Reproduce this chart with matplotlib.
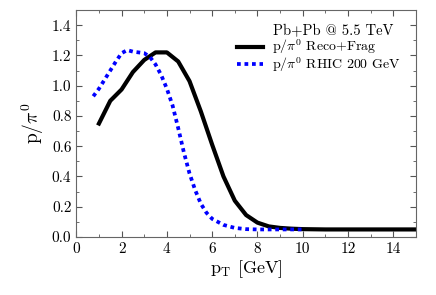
import matplotlib
matplotlib.use("Agg")
import matplotlib.pyplot as plt
from matplotlib.ticker import MultipleLocator

plt.rcParams['font.family'] = 'serif'
plt.rcParams['font.serif'] = ['cmr10']
plt.rcParams['mathtext.fontset'] = 'cm'
plt.rcParams['axes.formatter.use_mathtext'] = True

# Reco+Frag (LHC) p/pi0
pt_lhc = [1.0, 1.5, 2.0, 2.5, 3.0, 3.5, 4.0, 4.5, 5.0, 5.5, 6.0, 6.5, 7.0, 7.5,
          8.0, 8.5, 9.0, 9.5, 10.0, 11.0, 12.0, 13.0, 14.0, 15.0]
r_lhc = [0.75, 0.90, 0.975, 1.09, 1.17, 1.22, 1.22, 1.16, 1.03, 0.83, 0.61, 0.40,
         0.24, 0.145, 0.095, 0.07, 0.06, 0.055, 0.052, 0.05, 0.05, 0.05, 0.05, 0.05]

# RHIC 200 GeV p/pi0
pt_rhic = [0.75, 1.0, 1.25, 1.5, 1.75, 2.0, 2.25, 2.5, 3.0, 3.25, 3.5, 3.75, 4.0,
           4.25, 4.5, 4.75, 5.0, 5.25, 5.5, 5.75, 6.0, 6.5, 7.0, 7.5, 8.0, 9.0, 10.0]
r_rhic = [0.93, 0.98, 1.04, 1.10, 1.16, 1.215, 1.235, 1.225, 1.215, 1.19, 1.14, 1.07,
          0.98, 0.87, 0.72, 0.56, 0.42, 0.31, 0.22, 0.16, 0.12, 0.08, 0.06, 0.052,
          0.05, 0.05, 0.05]

legend_title = 'Pb+Pb @ 5.5 TeV'
label_lhc = r'$\mathrm{p/\pi^0}$ Reco+Frag'
label_rhic = r'$\mathrm{p/\pi^0}$ RHIC 200 GeV'

fig = plt.figure(figsize=(4.36, 2.95), dpi=100)
ax = fig.add_axes([0.175, 0.1966, 0.779, 0.7694])

ax.plot(pt_lhc, r_lhc, color='black', lw=3.0, label=label_lhc)
ax.plot(pt_rhic, r_rhic, color='#0000ff', lw=2.7, linestyle=(0, (1, 1)),
        label=label_rhic)

ax.set_xlim(0, 15)
ax.set_ylim(0, 1.5)
ax.xaxis.set_major_locator(MultipleLocator(2))
ax.xaxis.set_minor_locator(MultipleLocator(1))
ax.yaxis.set_major_locator(MultipleLocator(0.2))
ax.yaxis.set_minor_locator(MultipleLocator(0.1))
ax.set_yticks([0, 0.2, 0.4, 0.6, 0.8, 1.0, 1.2, 1.4])
ax.set_yticklabels(['0.0', '0.2', '0.4', '0.6', '0.8', '1.0', '1.2', '1.4'])
ax.set_xticks([0, 2, 4, 6, 8, 10, 12, 14])
ax.set_xticklabels(['0', '2', '4', '6', '8', '10', '12', '14'])
ax.tick_params(which='both', direction='in', top=True, right=True, labelsize=11,
               color='#555555')
ax.tick_params(which='major', length=4)
ax.tick_params(which='minor', length=2)
for s in ax.spines.values():
    s.set_color('#666666')
    s.set_linewidth(0.8)

ax.set_xlabel(r'$\mathrm{p_T}$ [GeV]', fontsize=13, labelpad=2)
ax.set_ylabel(r'$\mathrm{p/\pi^0}$', fontsize=14, labelpad=4)

ax.text(0.579, 0.907, legend_title, transform=ax.transAxes, fontsize=10.5,
        ha='left', va='center')
leg = ax.legend(loc='upper left', bbox_to_anchor=(0.472, 0.878), frameon=False,
                fontsize=10.0, handlelength=1.9, handletextpad=0.65,
                borderpad=0.0, borderaxespad=0.0, labelspacing=-0.12)

fig.savefig('out.png', dpi=100)
